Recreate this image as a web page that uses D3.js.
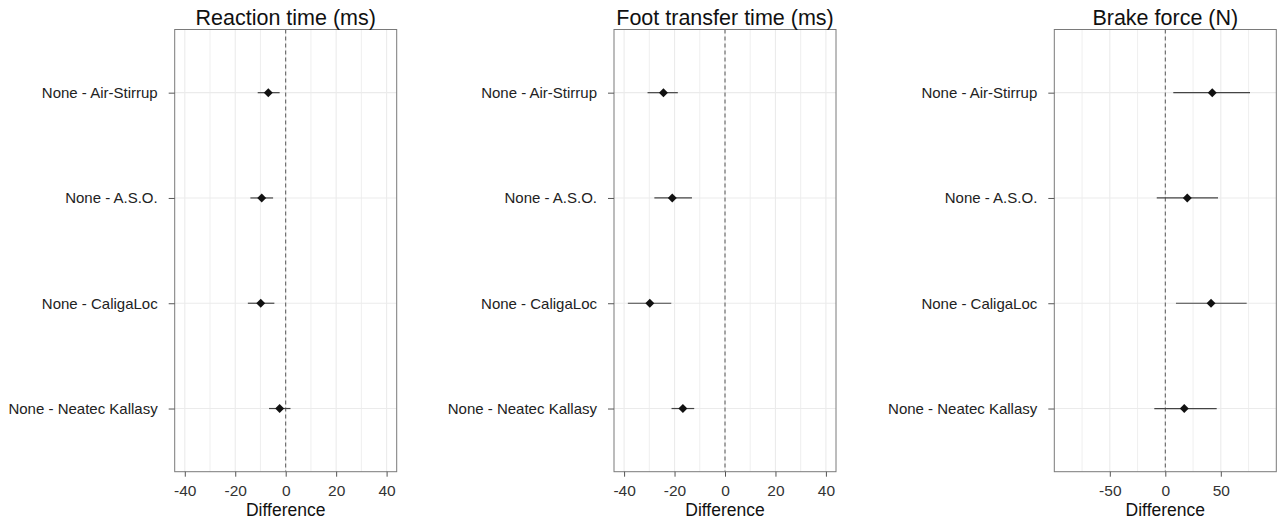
<!DOCTYPE html>
<html>
<head>
<meta charset="utf-8">
<script src="https://cdn.jsdelivr.net/npm/d3@7"></script>
<style>
  body { margin: 0; background: #fff; }
  svg { display: block; font-family: "Liberation Sans", Arial, sans-serif; }
</style>
</head>
<body>
<svg id="chart"></svg>
<script>
// comparisons (top to bottom)
const comparisons = ["None - Air-Stirrup", "None - A.S.O.", "None - CaligaLoc", "None - Neatec Kallasy"];

// Reaction time (ms)
const reactionEst = [-6.9, -9.5, -9.9, -2.4];
const reactionLo = [-11.1, -14.0, -15.0, -6.6];
const reactionHi = [-2.4, -5.0, -4.5, 1.9];

// Foot transfer time (ms)
const footEst = [-24.4, -20.9, -29.8, -16.7];
const footLo = [-30.7, -28.0, -38.5, -21.2];
const footHi = [-18.7, -13.1, -21.3, -12.2];

// Brake force (N)
const brakeEst = [42.3, 19.8, 41.2, 17.1];
const brakeLo = [7.2, -7.7, 9.6, -9.9];
const brakeHi = [76.3, 47.5, 73.3, 46.3];

const titles = ["Reaction time (ms)", "Foot transfer time (ms)", "Brake force (N)"];
const msTicks = [-40, -20, 0, 20, 40];
const msMinor = [-30, -10, 10, 30];
const forceTicks = [-50, 0, 50];
const forceMinor = [-75, -25, 25, 75];

const W = 1279, H = 521;
const svg = d3.select("#chart")
  .attr("width", W)
  .attr("height", H)
  .attr("viewBox", [0, 0, W, H]);

const plotTop = 29.5, plotBottom = 471.7;

const panels = [
  { title: titles[0], est: reactionEst, lo: reactionLo, hi: reactionHi, domain: [-44, 44], ticks: msTicks, minor: msMinor, x0: 174.7, x1: 396.7 },
  { title: titles[1], est: footEst, lo: footLo, hi: footHi, domain: [-44, 44], ticks: msTicks, minor: msMinor, x0: 614, x1: 836 },
  { title: titles[2], est: brakeEst, lo: brakeLo, hi: brakeHi, domain: [-100, 100], ticks: forceTicks, minor: forceMinor, x0: 1054.3, x1: 1276.3 }
];

const y = d3.scalePoint().domain(comparisons).range([plotTop, plotBottom]).padding(0.6);

panels.forEach(p => {
  const x = d3.scaleLinear().domain(p.domain).range([p.x0, p.x1]);
  const g = svg.append("g");

  // grid
  g.append("g").selectAll("line")
    .data(p.minor.concat(p.ticks))
    .enter().append("line")
      .attr("x1", d => x(d)).attr("x2", d => x(d))
      .attr("y1", plotTop).attr("y2", plotBottom)
      .attr("stroke", "#ebebeb")
      .attr("stroke-width", d => p.ticks.includes(d) ? 1.1 : 0.8);

  g.append("g").selectAll("line")
    .data(comparisons)
    .enter().append("line")
      .attr("x1", p.x0).attr("x2", p.x1)
      .attr("y1", d => y(d)).attr("y2", d => y(d))
      .attr("stroke", "#ebebeb")
      .attr("stroke-width", 1.1);

  // zero reference
  g.append("line")
    .attr("x1", x(0)).attr("x2", x(0))
    .attr("y1", plotTop).attr("y2", plotBottom)
    .attr("stroke", "#555")
    .attr("stroke-width", 1)
    .attr("stroke-dasharray", "4,3");

  // intervals
  const rows = comparisons.map((c, i) => ({ c, est: p.est[i], lo: p.lo[i], hi: p.hi[i] }));
  g.append("g").selectAll("line")
    .data(rows)
    .enter().append("line")
      .attr("x1", d => x(d.lo)).attr("x2", d => x(d.hi))
      .attr("y1", d => y(d.c)).attr("y2", d => y(d.c))
      .attr("stroke", "#444")
      .attr("stroke-width", 1.2);

  g.append("g").selectAll("path")
    .data(rows)
    .enter().append("path")
      .attr("d", d3.symbol(d3.symbolSquare, 40))
      .attr("transform", d => `translate(${x(d.est)},${y(d.c)}) rotate(45)`)
      .attr("fill", "#111");

  // border
  g.append("rect")
    .attr("x", p.x0).attr("y", plotTop)
    .attr("width", p.x1 - p.x0).attr("height", plotBottom - plotTop)
    .attr("fill", "none")
    .attr("stroke", "#7a7a7a")
    .attr("stroke-width", 1);

  // x axis
  const xAxis = g.append("g")
    .attr("transform", `translate(0,${plotBottom})`)
    .call(d3.axisBottom(x).tickValues(p.ticks).tickSize(5).tickPadding(8).tickFormat(d => String(d)));
  xAxis.select(".domain").remove();
  xAxis.selectAll(".tick line").attr("stroke", "#555");
  xAxis.selectAll(".tick text")
    .attr("fill", "#333")
    .style("font-size", "15.5px")
    .style("font-family", "'Liberation Sans', Arial, sans-serif");

  // y axis
  const yAxis = g.append("g")
    .attr("transform", `translate(${p.x0},0)`)
    .call(d3.axisLeft(y).tickSize(6).tickPadding(11));
  yAxis.select(".domain").remove();
  yAxis.selectAll(".tick line").attr("stroke", "#555");
  yAxis.selectAll(".tick text")
    .attr("fill", "#222")
    .style("font-size", "15px")
    .style("font-family", "'Liberation Sans', Arial, sans-serif");

  // titles
  g.append("text")
    .attr("x", (p.x0 + p.x1) / 2)
    .attr("y", 25)
    .attr("text-anchor", "middle")
    .style("font-size", "21.5px")
    .attr("fill", "#111")
    .text(p.title);

  g.append("text")
    .attr("x", (p.x0 + p.x1) / 2)
    .attr("y", 516)
    .attr("text-anchor", "middle")
    .style("font-size", "17.5px")
    .attr("fill", "#111")
    .text("Difference");
});
</script>
</body>
</html>
